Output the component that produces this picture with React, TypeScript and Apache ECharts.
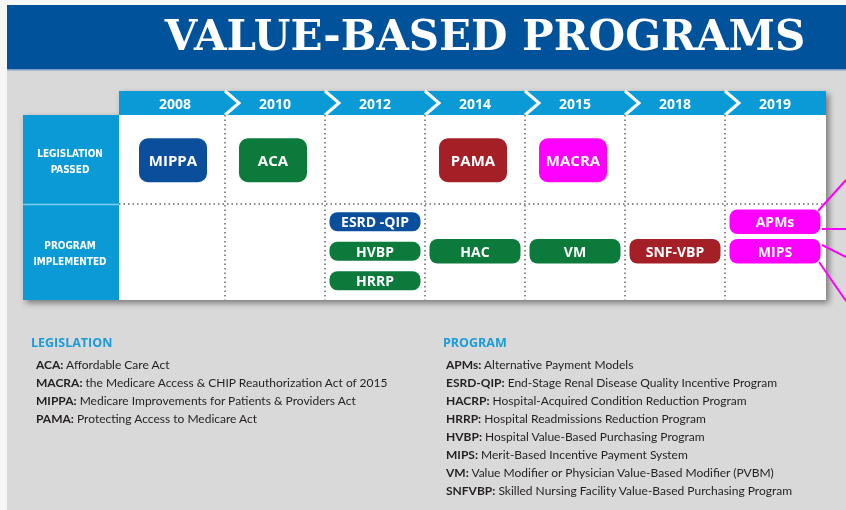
import React, { useEffect, useRef } from "react";
import * as echarts from "echarts";

const YEARS = ["2008", "2010", "2012", "2014", "2015", "2018", "2019"];
const ROWS = ["LEGISLATION\nPASSED", "PROGRAM\nIMPLEMENTED"];

const LAW_NAMES = ["MIPPA", "ACA", "PAMA", "MACRA"];
const LAW_YEARS = ["2008", "2010", "2014", "2015"];

const PROGRAM_NAMES = ["ESRD -QIP", "HVBP", "HRRP", "HAC", "VM", "SNF-VBP", "APMs", "MIPS"];
const PROGRAM_YEARS = ["2012", "2012", "2012", "2014", "2015", "2018", "2019", "2019"];
const PROGRAM_LAWS = ["MIPPA", "ACA", "ACA", "ACA", "ACA", "PAMA", "MACRA", "MACRA"];

const LEGISLATION_KEYS = ["ACA:", "MACRA:", "MIPPA:", "PAMA:"];
const LEGISLATION_TEXTS = [
  "Affordable Care Act",
  "the Medicare Access & CHIP Reauthorization Act of 2015",
  "Medicare Improvements for Patients & Providers Act",
  "Protecting Access to Medicare Act",
];
const PROGRAM_KEYS = ["APMs:", "ESRD-QIP:", "HACRP:", "HRRP:", "HVBP:", "MIPS:", "VM:", "SNFVBP:"];
const PROGRAM_TEXTS = [
  "Alternative Payment Models",
  "End-Stage Renal Disease Quality Incentive Program",
  "Hospital-Acquired Condition Reduction Program",
  "Hospital Readmissions Reduction Program",
  "Hospital Value-Based Purchasing Program",
  "Merit-Based Incentive Payment System",
  "Value Modifier or Physician Value-Based Modifier (PVBM)",
  "Skilled Nursing Facility Value-Based Purchasing Program",
];

const LAW_COLORS: Record<string, string> = {
  MIPPA: "#0b4f9c",
  ACA: "#0b7a3b",
  PAMA: "#a51f26",
  MACRA: "#ff00ff",
};

const LIGHT_BLUE = "#0a9bd7";
const BOX_FONT = '"Open Sans"';
const LEG_FONT = "Lato";
const LEG_SIZE = 12;

export default function App() {
  const ref = useRef<HTMLDivElement>(null);

  useEffect(() => {
    if (!ref.current) return;
    const chart = echarts.init(ref.current, null, { renderer: "svg" });

    const legendEls: any[] = [];
    const heading = (text: string, x: number) => ({
      type: "text",
      x,
      y: 342,
      z: 1,
      style: {
        text,
        fill: "#1a9cd8",
        fontFamily: BOX_FONT,
        fontWeight: "bold",
        fontSize: 12.5,
        verticalAlign: "middle",
      },
    });
    const item = (k: string, t: string, x: number, y: number) => ({
      type: "text",
      x,
      y,
      z: 1,
      style: {
        text: `{b|${k}} ${t}`,
        fill: "#231f20",
        fontFamily: LEG_FONT,
        fontSize: LEG_SIZE,
        verticalAlign: "middle",
        rich: {
          b: { fontWeight: "bold", fontFamily: LEG_FONT, fontSize: LEG_SIZE, fill: "#231f20" },
        },
      },
    });
    legendEls.push(heading("LEGISLATION", 31));
    LEGISLATION_KEYS.forEach((k, i) => legendEls.push(item(k, LEGISLATION_TEXTS[i], 36, 364 + i * 18)));
    legendEls.push(heading("PROGRAM", 443));
    PROGRAM_KEYS.forEach((k, i) => legendEls.push(item(k, PROGRAM_TEXTS[i], 446, 364 + i * 18)));

    const magenta = LAW_COLORS.MACRA;
    const connectors = [
      [818, 211, 846, 180],
      [822, 229, 846, 229],
      [822, 245, 846, 257],
      [819, 262, 846, 301],
    ].map((p) => ({
      type: "line",
      z: 1,
      shape: { x1: p[0], y1: p[1], x2: p[2], y2: p[3] },
      style: { stroke: magenta, lineWidth: 2 },
    }));

    const option: any = {
      animation: false,
      grid: { left: 125, right: 21, top: 115, bottom: 210, containLabel: false },
      xAxis: {
        type: "category",
        data: YEARS,
        position: "top",
        z: 10,
        axisLine: { show: false },
        axisTick: { show: false },
        splitLine: { show: false },
        axisLabel: {
          color: "#fff",
          fontFamily: BOX_FONT,
          fontWeight: "bold",
          fontSize: 14,
          margin: 5,
        },
      },
      yAxis: {
        type: "category",
        data: ROWS,
        inverse: true,
        z: 10,
        axisLine: { show: false },
        axisTick: { show: false },
        splitLine: { show: false },
        axisLabel: {
          color: "#fff",
          fontFamily: '"DejaVu Sans Condensed", "DejaVu Sans"',
          fontWeight: "bold",
          fontSize: 10,
          lineHeight: 16,
          align: "center",
          margin: 55,
        },
      },
      graphic: {
        elements: [
          { type: "rect", z: 0, shape: { x: 0, y: 0, width: 846, height: 510 }, style: { fill: "#f4f7f3" } },
          { type: "rect", z: 0, shape: { x: 7, y: 5, width: 839, height: 65 }, style: { fill: "#00529b" } },
          { type: "rect", z: 0, shape: { x: 7, y: 70, width: 839, height: 440 }, style: { fill: "#d9d9d9" } },
          { type: "rect", z: 0, shape: { x: 7, y: 69, width: 839, height: 1.5 }, style: { fill: "#7f9ec6" } },
          {
            type: "text",
            z: 1,
            x: 485,
            y: 35,
            style: {
              text: "VALUE-BASED PROGRAMS",
              fill: "#ffffff",
              fontFamily: '"DejaVu Serif"',
              fontWeight: "bold",
              fontSize: 42,
              align: "center",
              verticalAlign: "middle",
            },
          },
          {
            type: "polygon",
            z: 0,
            shape: {
              points: [
                [119, 91],
                [826, 91],
                [826, 300],
                [23, 300],
                [23, 115],
                [119, 115],
              ],
            },
            style: {
              fill: "#ffffff",
              shadowBlur: 6,
              shadowOffsetX: 3,
              shadowOffsetY: 3,
              shadowColor: "rgba(0,0,0,0.45)",
            },
          },
          { type: "rect", z: 0, shape: { x: 119, y: 91, width: 707, height: 24 }, style: { fill: LIGHT_BLUE } },
          { type: "rect", z: 0, shape: { x: 23, y: 115, width: 96, height: 185 }, style: { fill: LIGHT_BLUE } },
          {
            type: "line",
            z: 0,
            shape: { x1: 23, y1: 204.5, x2: 119, y2: 204.5 },
            style: { stroke: "#7fd0f0", lineWidth: 1.5 },
          },
          {
            type: "line",
            z: 0,
            shape: { x1: 119, y1: 204, x2: 826, y2: 204 },
            style: { stroke: "#666", lineWidth: 1.5, lineDash: [1.5, 3] },
          },
          ...connectors,
          ...legendEls,
        ],
      },
      series: [
        {
          type: "custom",
          name: "dividers",
          silent: true,
          data: YEARS.slice(1).map((_, i) => [i + 1, 0]),
          renderItem: (params: any, api: any) => {
            const c = api.coord([api.value(0), 0]);
            const bw = api.size([1, 0])[0];
            const x = c[0] - bw / 2;
            const top = params.coordSys.y;
            const bottom = top + params.coordSys.height;
            return {
              type: "group",
              children: [
                {
                  type: "polyline",
                  shape: { points: [[x, top - 24], [x + 14, top - 12], [x, top]] },
                  style: { stroke: "#ffffff", lineWidth: 3, fill: "none" },
                },
                {
                  type: "line",
                  shape: { x1: x, y1: top, x2: x, y2: bottom },
                  style: { stroke: "#666", lineWidth: 1.5, lineDash: [1.5, 3] },
                },
              ],
            };
          },
        },
        {
          type: "custom",
          name: "Legislation passed",
          data: LAW_NAMES.map((_, i) => [YEARS.indexOf(LAW_YEARS[i]), 0]),
          renderItem: (params: any, api: any) => {
            const i = params.dataIndex;
            const c = api.coord([api.value(0), api.value(1)]);
            const w = 68;
            const h = 44;
            const cx = c[0] - 2;
            const cy = c[1] - 1;
            return {
              type: "group",
              children: [
                {
                  type: "rect",
                  shape: { x: cx - w / 2, y: cy - h / 2, width: w, height: h, r: 9 },
                  style: { fill: LAW_COLORS[LAW_NAMES[i]] },
                },
                {
                  type: "text",
                  style: {
                    text: LAW_NAMES[i],
                    x: cx,
                    y: cy,
                    align: "center",
                    verticalAlign: "middle",
                    fill: "#ffffff",
                    fontFamily: BOX_FONT,
                    fontWeight: "bold",
                    fontSize: 15,
                  },
                },
              ],
            };
          },
        },
        {
          type: "custom",
          name: "Program implemented",
          data: PROGRAM_NAMES.map((_, i) => [YEARS.indexOf(PROGRAM_YEARS[i]), 1]),
          renderItem: (params: any, api: any) => {
            const i = params.dataIndex;
            const year = PROGRAM_YEARS[i];
            const same = PROGRAM_YEARS.map((y, j) => (y === year ? j : -1)).filter((j) => j >= 0);
            const rank = same.indexOf(i);
            const offset = rank - (same.length > 1 ? 1 : 0);
            const c = api.coord([api.value(0), api.value(1)]);
            const w = 91;
            const h = same.length > 2 ? 19 : 24.5;
            const cx = c[0];
            const cy = c[1] - 2.5 + offset * 29.5;
            return {
              type: "group",
              children: [
                {
                  type: "rect",
                  shape: { x: cx - w / 2, y: cy - h / 2, width: w, height: h, r: 8 },
                  style: { fill: LAW_COLORS[PROGRAM_LAWS[i]] },
                },
                {
                  type: "text",
                  style: {
                    text: PROGRAM_NAMES[i],
                    x: cx,
                    y: cy,
                    align: "center",
                    verticalAlign: "middle",
                    fill: "#ffffff",
                    fontFamily: BOX_FONT,
                    fontWeight: "bold",
                    fontSize: 14,
                  },
                },
              ],
            };
          },
        },
      ],
    };

    chart.setOption(option);
    return () => chart.dispose();
  }, []);

  return (
    <div
      ref={ref}
      style={{ position: "fixed", left: 0, top: 0, width: 846, height: 510 }}
    />
  );
}
